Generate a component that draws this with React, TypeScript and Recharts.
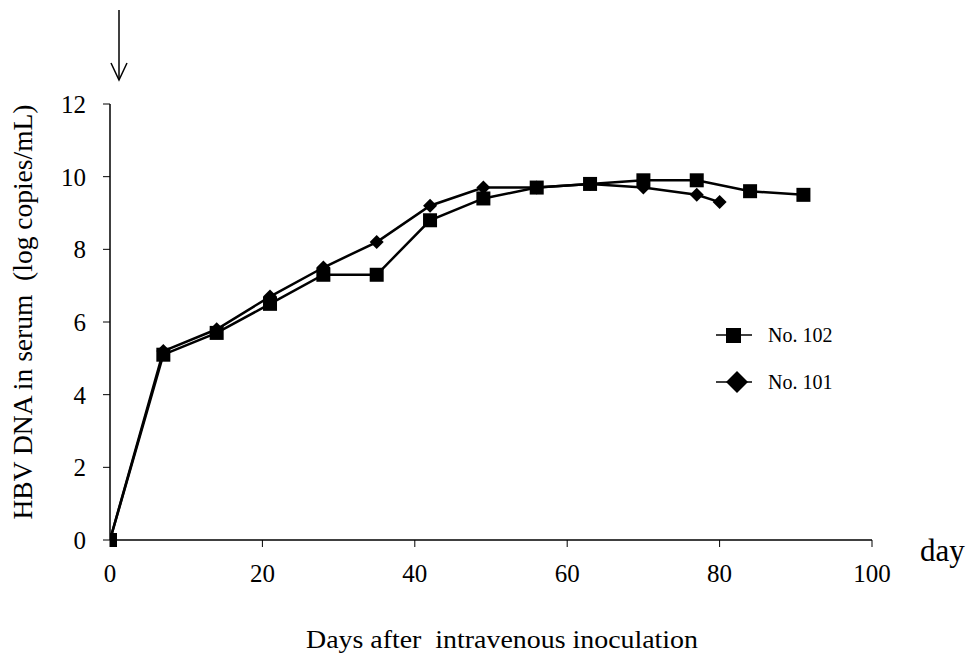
import { Label, Legend, Line, LineChart, XAxis, YAxis } from "recharts";

// No. 102 (squares)
const days102 = [0, 7, 14, 21, 28, 35, 42, 49, 56, 63, 70, 77, 84, 91];
const hbv102 = [0, 5.1, 5.7, 6.5, 7.3, 7.3, 8.8, 9.4, 9.7, 9.8, 9.9, 9.9, 9.6, 9.5];

// No. 101 (diamonds)
const days101 = [0, 7, 14, 21, 28, 35, 42, 49, 56, 63, 70, 77, 80];
const hbv101 = [0, 5.2, 5.8, 6.7, 7.5, 8.2, 9.2, 9.7, 9.7, 9.8, 9.7, 9.5, 9.3];

const xTicks = [0, 20, 40, 60, 80, 100];
const yTicks = [0, 2, 4, 6, 8, 10, 12];

const data102 = days102.map((day, i) => ({ day, value: hbv102[i] }));
const data101 = days101.map((day, i) => ({ day, value: hbv101[i] }));

const FONT = "'Liberation Serif', 'Times New Roman', serif";

const Square = (p: any) => {
  if (p.cx == null || p.cy == null) return <g key={p.key} />;
  return <rect key={p.key} x={p.cx - 7} y={p.cy - 7} width={14} height={14} fill="#000" />;
};

const Diamond = (p: any) => {
  if (p.cx == null || p.cy == null) return <g key={p.key} />;
  const { cx, cy } = p;
  return (
    <polygon
      key={p.key}
      points={`${cx},${cy - 7} ${cx + 7},${cy} ${cx},${cy + 7} ${cx - 7},${cy}`}
      fill="#000"
    />
  );
};

const legendItems = [
  { name: "No. 102", shape: "square" },
  { name: "No. 101", shape: "diamond" },
];

const LegendBox = () => (
  <svg width={150} height={90} style={{ display: "block" }}>
    {legendItems.map((it, i) => {
      const cy = 17 + i * 47;
      return (
        <g key={it.name}>
          <line x1={6} x2={42} y1={cy} y2={cy} stroke="#000" strokeWidth={1.5} />
          {it.shape === "square" ? (
            <rect x={16} y={cy - 7} width={15} height={15} fill="#000" />
          ) : (
            <polygon points={`27,${cy - 11} 38,${cy} 27,${cy + 11} 16,${cy}`} fill="#000" />
          )}
          <text x={58} y={cy + 7} fontSize={20} fontFamily={FONT} fill="#000">
            {it.name}
          </text>
        </g>
      );
    })}
  </svg>
);

export default function App() {
  return (
    <div style={{ position: "absolute", left: 0, top: 0, width: 973, height: 665, background: "#fff" }}>
      <LineChart
        width={973}
        height={665}
        margin={{ top: 104, right: 101, left: 0, bottom: 0 }}
        style={{ fontFamily: FONT }}
      >
        <XAxis
          type="number"
          dataKey="day"
          domain={[0, 100]}
          ticks={xTicks}
          allowDataOverflow
          height={125}
          tickSize={7}
          tickMargin={17}
          stroke="#000"
          tick={{ fill: "#000", fontSize: 25, fontFamily: FONT }}
          axisLine={{ stroke: "#000", strokeWidth: 1.5 }}
        >
          <Label
            content={({ viewBox }: any) => (
              <text
                x={viewBox.x + viewBox.width / 2 + 11}
                y={viewBox.y + 108}
                textAnchor="middle"
                fontSize={26}
                fontFamily={FONT}
                fill="#000"
                textLength={392}
                lengthAdjust="spacingAndGlyphs"
                style={{ whiteSpace: "pre" }}
              >
                Days after  intravenous inoculation
              </text>
            )}
          />
        </XAxis>
        <YAxis
          type="number"
          domain={[0, 12]}
          ticks={yTicks}
          width={110}
          tickSize={7}
          tickMargin={17}
          stroke="#000"
          tick={{ fill: "#000", fontSize: 25, fontFamily: FONT }}
          axisLine={{ stroke: "#000", strokeWidth: 1.5 }}
        >
          <Label
            content={({ viewBox }: any) => {
              const cx = 32;
              const cy = viewBox.y + viewBox.height / 2 - 10;
              return (
                <text
                  x={cx}
                  y={cy}
                  transform={`rotate(-90 ${cx} ${cy})`}
                  textAnchor="middle"
                  fontSize={27}
                  fontFamily={FONT}
                  fill="#000"
                  textLength={415}
                  lengthAdjust="spacingAndGlyphs"
                  style={{ whiteSpace: "pre" }}
                >
                  HBV DNA in serum  (log copies/mL)
                </text>
              );
            }}
          />
        </YAxis>
        <Legend
          layout="horizontal"
          verticalAlign="middle"
          align="center"
          content={() => <LegendBox />}
          wrapperStyle={{ position: "absolute", left: 710, top: 318, width: 150 }}
        />
        <Line
          data={data101}
          dataKey="value"
          name="No. 101"
          type="linear"
          stroke="#000"
          strokeWidth={2.5}
          dot={Diamond}
          activeDot={false}
          isAnimationActive={false}
        />
        <Line
          data={data102}
          dataKey="value"
          name="No. 102"
          type="linear"
          stroke="#000"
          strokeWidth={2.5}
          dot={Square}
          activeDot={false}
          isAnimationActive={false}
        />
      </LineChart>
      <svg
        width={973}
        height={665}
        style={{ position: "absolute", left: 0, top: 0, pointerEvents: "none" }}
      >
        <line x1={119} y1={10} x2={119} y2={79} stroke="#000" strokeWidth={1.5} />
        <polyline points="111,63 119,80 127,63" fill="none" stroke="#000" strokeWidth={1.5} />
        <text x={920} y={561} fontSize={31} fontFamily={FONT} fill="#000">
          day
        </text>
      </svg>
    </div>
  );
}
